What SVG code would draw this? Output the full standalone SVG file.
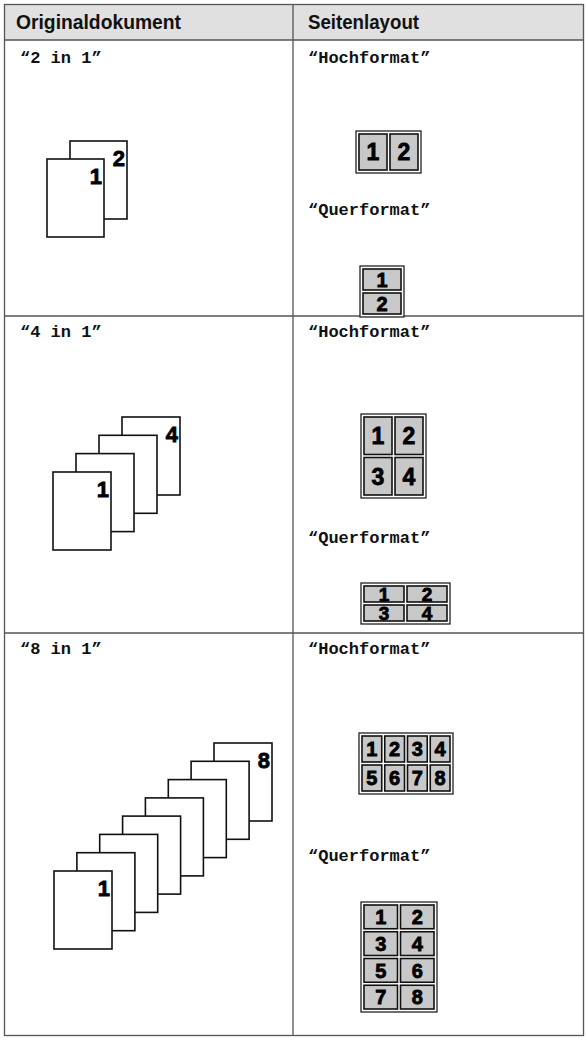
<svg xmlns="http://www.w3.org/2000/svg" width="588" height="1040" viewBox="0 0 588 1040">
<style>
.hd{font-family:"Liberation Sans",Arial,sans-serif;font-weight:bold;font-size:20px;fill:#111}
.lb{font-family:"Liberation Mono","Courier New",monospace;font-weight:bold;font-size:17px;fill:#111}
.pg{fill:#fff;stroke:#111;stroke-width:1.6}
.pn{font-family:"Liberation Sans",Arial,sans-serif;font-weight:bold;font-size:22px;fill:#000;stroke:#000;stroke-width:0.8;text-anchor:end}
.fr{fill:#fff;stroke:#222;stroke-width:1.3}
.cl{fill:#c8c8c8;stroke:#111;stroke-width:1.6}
.cn{font-family:"Liberation Sans",Arial,sans-serif;font-weight:bold;fill:#000;stroke:#000;stroke-width:0.8;text-anchor:middle}
.grid{stroke:#555;stroke-width:1.3;fill:none}
</style>
<g id="table">
<rect x="4.5" y="4.5" width="579" height="35.5" fill="#e0e0e0"/>
<rect class="grid" x="4.5" y="4.5" width="579" height="1031" stroke="#333"/>
<line class="grid" x1="4.5" y1="40" x2="583.5" y2="40"/>
<line class="grid" x1="4.5" y1="316" x2="583.5" y2="316"/>
<line class="grid" x1="4.5" y1="633" x2="583.5" y2="633"/>
<line class="grid" x1="293" y1="4.5" x2="293" y2="1035.5"/>
<text class="hd" x="16" y="29" textLength="165" lengthAdjust="spacingAndGlyphs">Originaldokument</text>
<text class="hd" x="308" y="29" textLength="111" lengthAdjust="spacingAndGlyphs">Seitenlayout</text>
</g>
<g id="row1-labels">
<text class="lb" x="20" y="63">“2 in 1”</text>
<text class="lb" x="308" y="63">“Hochformat”</text>
<text class="lb" x="308" y="215">“Querformat”</text>
</g>
<g id="orig-2in1">
<rect class="pg" x="70" y="141" width="57" height="78"/>
<text class="pn" x="125" y="166">2</text>
<rect class="pg" x="47" y="159" width="57" height="78"/>
<text class="pn" x="102" y="184">1</text>
</g>
<g id="hoch-2in1">
<rect class="fr" x="356" y="131" width="65" height="42"/>
<rect class="cl" x="359" y="134" width="28" height="36"/>
<rect class="cl" x="390" y="134" width="28" height="36"/>
<text class="cn" font-size="23" x="373" y="160">1</text>
<text class="cn" font-size="23" x="404" y="160">2</text>
</g>
<g id="quer-2in1">
<rect class="fr" x="360" y="266" width="44" height="51"/>
<rect class="cl" x="363" y="269" width="38" height="21"/>
<rect class="cl" x="363" y="293" width="38" height="21"/>
<text class="cn" font-size="20" x="382" y="287">1</text>
<text class="cn" font-size="20" x="382" y="311">2</text>
</g>
<g id="row2-labels">
<text class="lb" x="20" y="337">“4 in 1”</text>
<text class="lb" x="308" y="337">“Hochformat”</text>
<text class="lb" x="308" y="543">“Querformat”</text>
</g>
<g id="orig-4in1">
<rect class="pg" x="122" y="417" width="58" height="78"/>
<text class="pn" x="178" y="442">4</text>
<rect class="pg" x="99" y="435.3" width="58" height="78"/>
<rect class="pg" x="76" y="453.6" width="58" height="78"/>
<rect class="pg" x="53" y="472" width="58" height="78"/>
<text class="pn" x="109" y="497">1</text>
</g>
<g id="hoch-4in1">
<rect class="fr" x="361" y="414" width="65" height="84"/>
<rect class="cl" x="364" y="417" width="28" height="37.5"/>
<rect class="cl" x="395" y="417" width="28" height="37.5"/>
<rect class="cl" x="364" y="457.5" width="28" height="37.5"/>
<rect class="cl" x="395" y="457.5" width="28" height="37.5"/>
<text class="cn" font-size="23" x="378" y="444">1</text>
<text class="cn" font-size="23" x="409" y="444">2</text>
<text class="cn" font-size="23" x="378" y="484.5">3</text>
<text class="cn" font-size="23" x="409" y="484.5">4</text>
</g>
<g id="quer-4in1">
<rect class="fr" x="361" y="583" width="89" height="41"/>
<rect class="cl" x="364" y="586" width="40" height="16"/>
<rect class="cl" x="407" y="586" width="40" height="16"/>
<rect class="cl" x="364" y="605" width="40" height="16"/>
<rect class="cl" x="407" y="605" width="40" height="16"/>
<text class="cn" font-size="19" x="384" y="601">1</text>
<text class="cn" font-size="19" x="427" y="601">2</text>
<text class="cn" font-size="19" x="384" y="620">3</text>
<text class="cn" font-size="19" x="427" y="620">4</text>
</g>
<g id="row3-labels">
<text class="lb" x="20" y="654">“8 in 1”</text>
<text class="lb" x="308" y="654">“Hochformat”</text>
<text class="lb" x="308" y="861">“Querformat”</text>
</g>
<g id="orig-8in1">
<rect class="pg" x="214" y="743" width="58" height="78"/>
<text class="pn" x="270" y="768">8</text>
<rect class="pg" x="191.1" y="761.3" width="58" height="78"/>
<rect class="pg" x="168.3" y="779.6" width="58" height="78"/>
<rect class="pg" x="145.4" y="797.9" width="58" height="78"/>
<rect class="pg" x="122.6" y="816.1" width="58" height="78"/>
<rect class="pg" x="99.7" y="834.4" width="58" height="78"/>
<rect class="pg" x="76.9" y="852.7" width="58" height="78"/>
<rect class="pg" x="54" y="871" width="58" height="78"/>
<text class="pn" x="110" y="896">1</text>
</g>
<g id="hoch-8in1">
<rect class="fr" x="359" y="733" width="94" height="61"/>
<rect class="cl" x="362" y="736" width="19.75" height="26"/>
<rect class="cl" x="384.75" y="736" width="19.75" height="26"/>
<rect class="cl" x="407.5" y="736" width="19.75" height="26"/>
<rect class="cl" x="430.25" y="736" width="19.75" height="26"/>
<rect class="cl" x="362" y="765" width="19.75" height="26"/>
<rect class="cl" x="384.75" y="765" width="19.75" height="26"/>
<rect class="cl" x="407.5" y="765" width="19.75" height="26"/>
<rect class="cl" x="430.25" y="765" width="19.75" height="26"/>
<text class="cn" font-size="20" x="371.9" y="756">1</text>
<text class="cn" font-size="20" x="394.6" y="756">2</text>
<text class="cn" font-size="20" x="417.4" y="756">3</text>
<text class="cn" font-size="20" x="440.1" y="756">4</text>
<text class="cn" font-size="20" x="371.9" y="785">5</text>
<text class="cn" font-size="20" x="394.6" y="785">6</text>
<text class="cn" font-size="20" x="417.4" y="785">7</text>
<text class="cn" font-size="20" x="440.1" y="785">8</text>
</g>
<g id="quer-8in1">
<rect class="fr" x="361" y="902" width="76" height="110"/>
<rect class="cl" x="364" y="905" width="33.5" height="23.75"/>
<rect class="cl" x="400.5" y="905" width="33.5" height="23.75"/>
<rect class="cl" x="364" y="931.75" width="33.5" height="23.75"/>
<rect class="cl" x="400.5" y="931.75" width="33.5" height="23.75"/>
<rect class="cl" x="364" y="958.5" width="33.5" height="23.75"/>
<rect class="cl" x="400.5" y="958.5" width="33.5" height="23.75"/>
<rect class="cl" x="364" y="985.25" width="33.5" height="23.75"/>
<rect class="cl" x="400.5" y="985.25" width="33.5" height="23.75"/>
<text class="cn" font-size="20" x="380.75" y="924">1</text>
<text class="cn" font-size="20" x="417.25" y="924">2</text>
<text class="cn" font-size="20" x="380.75" y="950.7">3</text>
<text class="cn" font-size="20" x="417.25" y="950.7">4</text>
<text class="cn" font-size="20" x="380.75" y="977.5">5</text>
<text class="cn" font-size="20" x="417.25" y="977.5">6</text>
<text class="cn" font-size="20" x="380.75" y="1004.2">7</text>
<text class="cn" font-size="20" x="417.25" y="1004.2">8</text>
</g>
</svg>
